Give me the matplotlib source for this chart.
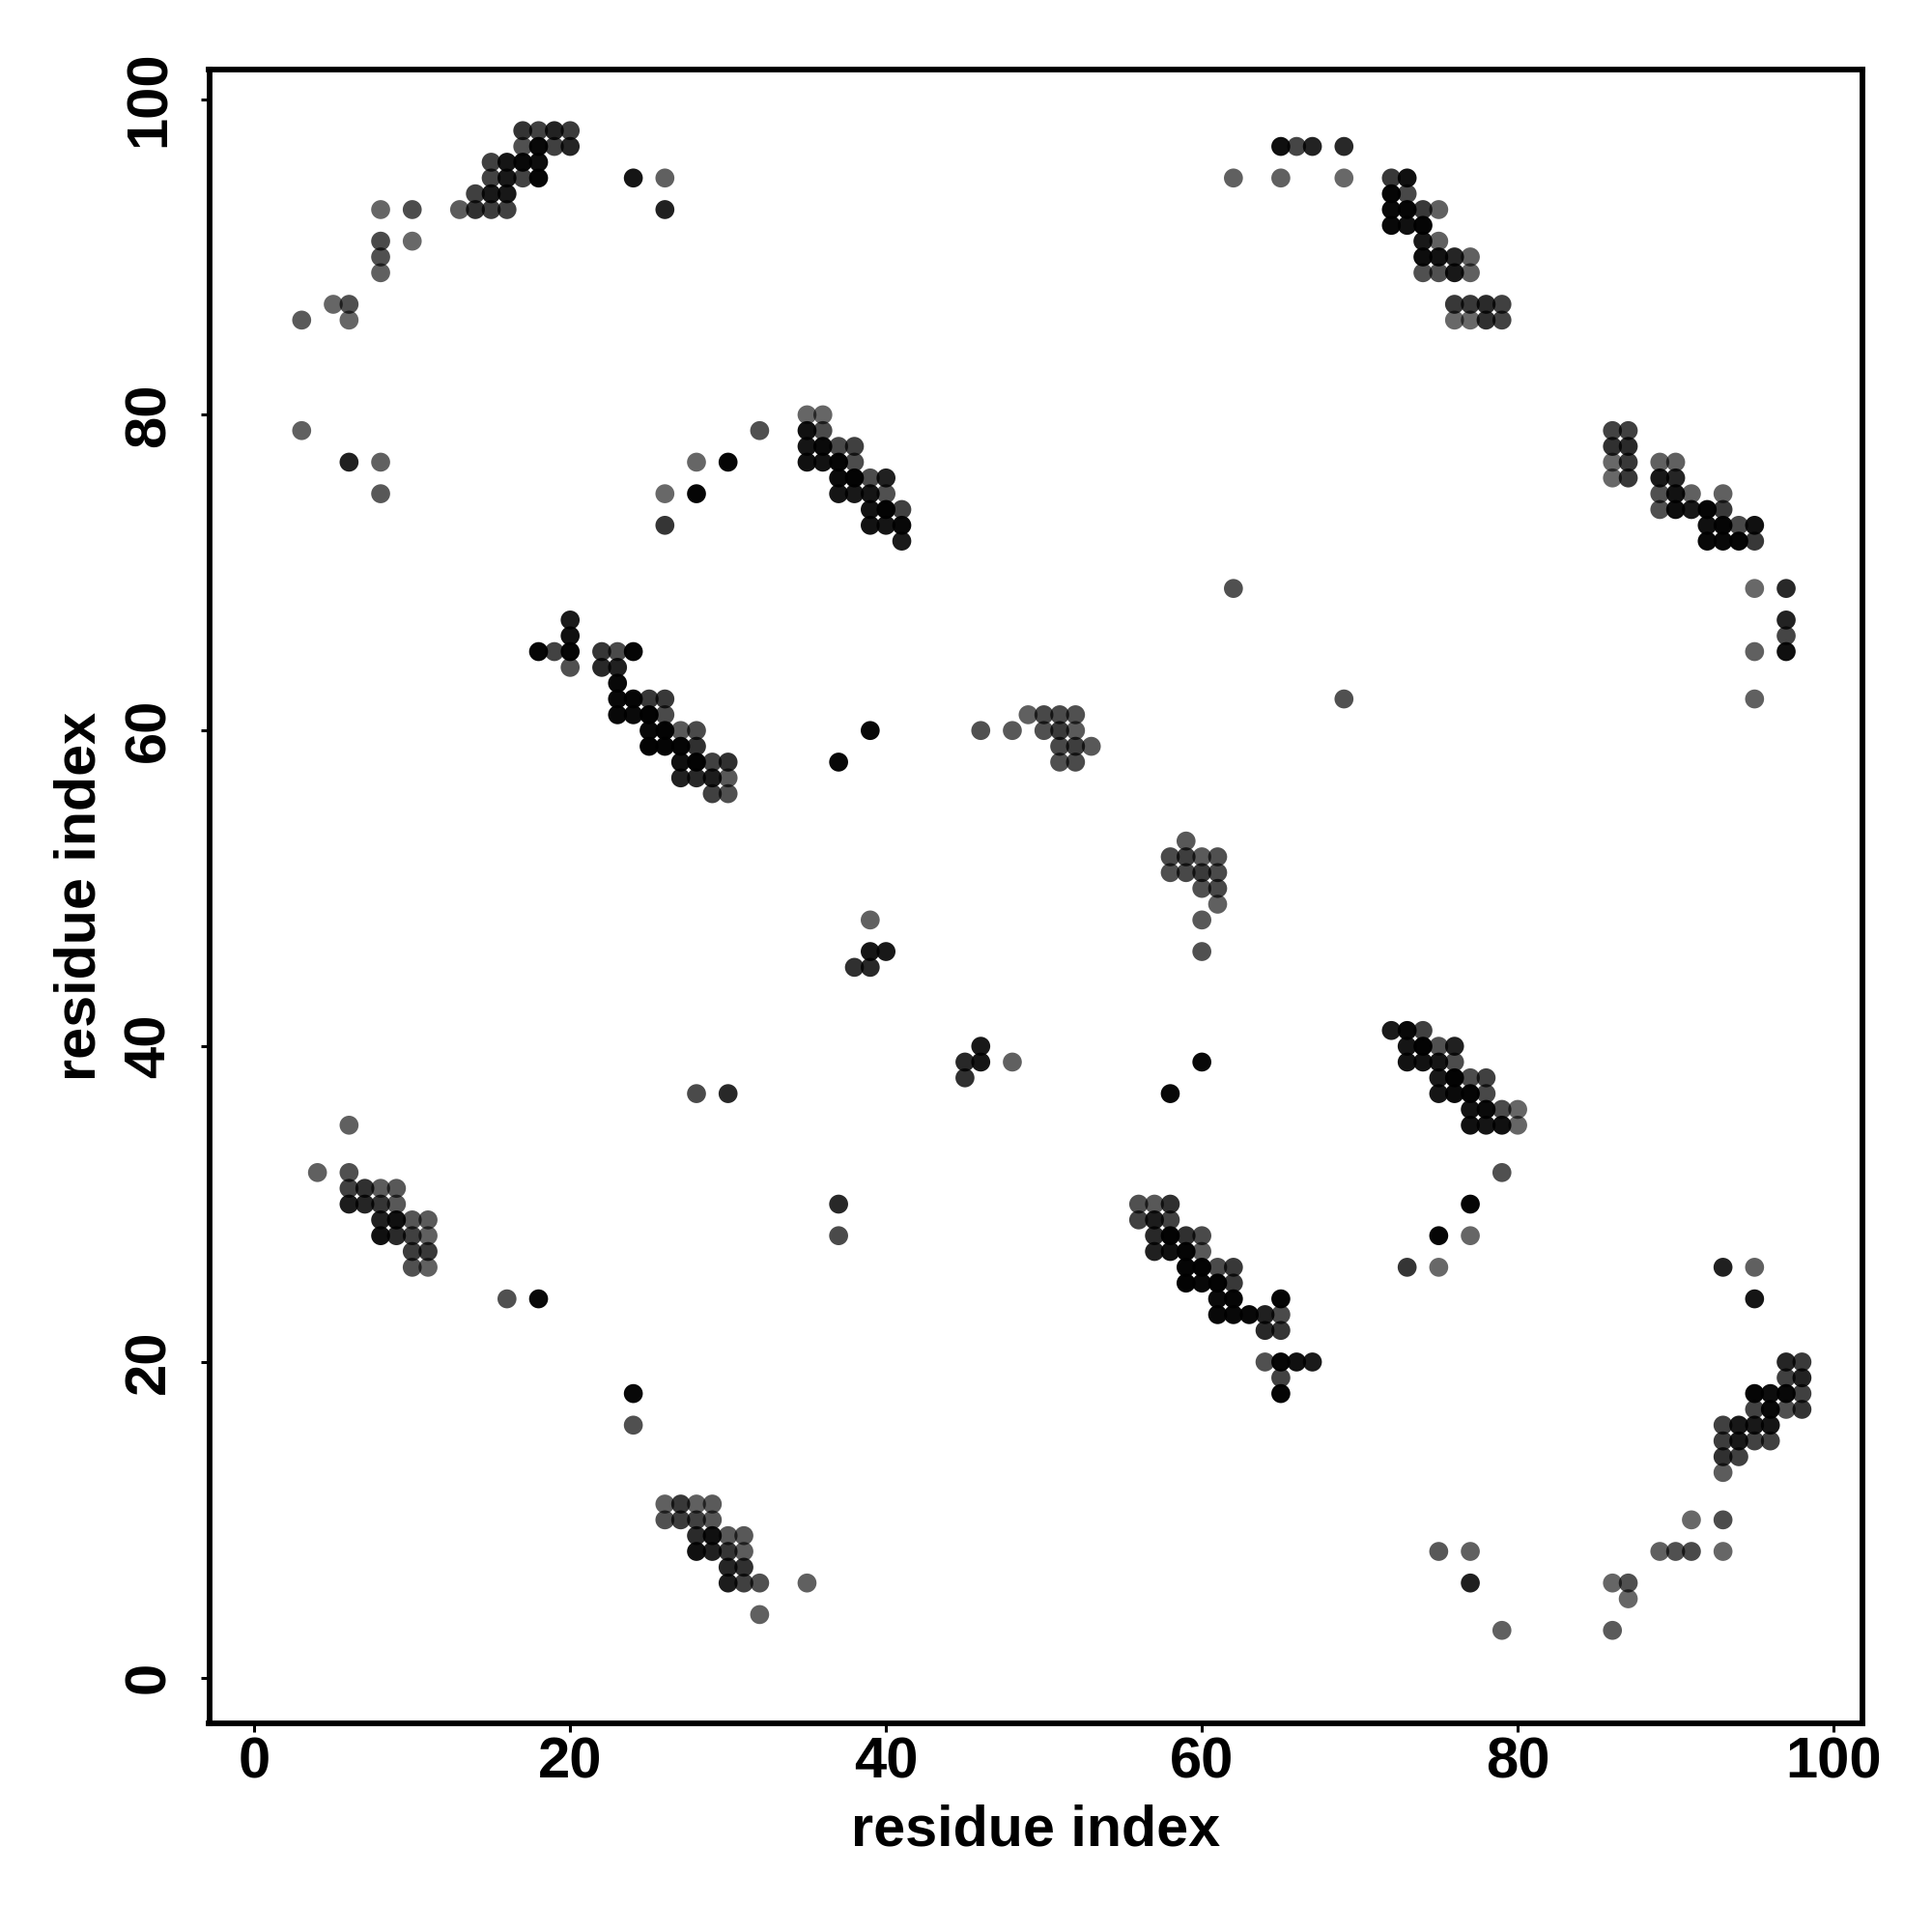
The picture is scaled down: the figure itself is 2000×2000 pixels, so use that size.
import matplotlib
matplotlib.use('Agg')
import matplotlib.pyplot as plt
import numpy as np

plt.rcParams['font.family'] = ['Liberation Sans', 'DejaVu Sans']

# contacts in the upper triangle (x < y), the map is symmetric
# gray is the level, 0 = black
res_x = [
    3, 6, 5, 6,
    8, 8, 8, 10,
    8, 10, 13, 14, 15, 16,
    14, 15, 16,
    15, 16, 17, 18,
    15, 16, 17, 18,
    17, 18, 19, 20,
    17, 18, 19, 20,
    24, 26, 26,
    3, 6, 8, 8,
    26, 26, 28, 28, 30, 32,
    35, 36,
    35, 36,
    35, 36, 37, 38,
    35, 36, 37, 38,
    37, 38, 39, 40,
    37, 38, 39, 40,
    39, 40, 41,
    39, 40, 41,
    41,
    18, 19, 20, 20, 20, 20,
    22, 23, 24,
    22, 23,
    23,
    23, 24, 25, 26,
    23, 24, 25, 26,
    25, 26, 27, 28,
    25, 26, 27, 28,
    27, 28, 29, 30,
    27, 28, 29, 30,
    29, 30,
    37, 39,
    46, 48, 49, 50, 51, 52,
    50, 51, 52,
    51, 52, 53,
    51, 52,
    38, 39, 39, 40, 39,
    28, 30,
    62,
    65, 66, 67, 69,
    62, 65, 69,
    72, 73, 72, 73,
    72, 73, 74, 75,
    72, 73, 74,
    74, 75,
    74, 75, 76, 77,
    74, 75, 76, 77,
    76, 77, 78, 79,
    76, 77, 78, 79,
    4, 6, 6,
    6, 7, 8, 9,
    6, 7, 8, 9,
    8, 9, 10, 11,
    8, 9, 10, 11,
    10, 11,
    10, 11,
    16, 18,
]
res_y = [
    86, 86, 87, 87,
    89, 90, 91, 91,
    93, 93, 93, 93, 93, 93,
    94, 94, 94,
    95, 95, 95, 95,
    96, 96, 96, 96,
    97, 97, 97, 97,
    98, 98, 98, 98,
    95, 95, 93,
    79, 77, 77, 75,
    75, 73, 77, 75, 77, 79,
    80, 80,
    79, 79,
    78, 78, 78, 78,
    77, 77, 77, 77,
    76, 76, 76, 76,
    75, 75, 75, 75,
    74, 74, 74,
    73, 73, 73,
    72,
    65, 65, 65, 64, 66, 67,
    65, 65, 65,
    64, 64,
    63,
    62, 62, 62, 62,
    61, 61, 61, 61,
    60, 60, 60, 60,
    59, 59, 59, 59,
    58, 58, 58, 58,
    57, 57, 57, 57,
    56, 56,
    58, 60,
    60, 60, 61, 61, 61, 61,
    60, 60, 60,
    59, 59, 59,
    58, 58,
    45, 45, 46, 46, 48,
    37, 37,
    69,
    97, 97, 97, 97,
    95, 95, 95,
    95, 95, 94, 94,
    93, 93, 93, 93,
    92, 92, 92,
    91, 91,
    90, 90, 90, 90,
    89, 89, 89, 89,
    87, 87, 87, 87,
    86, 86, 86, 86,
    32, 32, 35,
    31, 31, 31, 31,
    30, 30, 30, 30,
    29, 29, 29, 29,
    28, 28, 28, 28,
    27, 27,
    26, 26,
    24, 24,
]
res_gray = [
    0x5a, 0x66, 0x66, 0x50,
    0x60, 0x50, 0x4a, 0x68,
    0x66, 0x4c, 0x5c, 0x30, 0x3c, 0x40,
    0x40, 0x18, 0x18,
    0x42, 0x18, 0x42, 0x05,
    0x40, 0x15, 0x08, 0x0d,
    0x50, 0x08, 0x40, 0x25,
    0x33, 0x40, 0x22, 0x3a,
    0x15, 0x60, 0x20,
    0x60, 0x20, 0x60, 0x58,
    0x68, 0x35, 0x66, 0x05, 0x05, 0x50,
    0x66, 0x66,
    0x10, 0x4a,
    0x15, 0x0a, 0x48, 0x40,
    0x10, 0x12, 0x05, 0x4c,
    0x0a, 0x03, 0x4c, 0x20,
    0x15, 0x18, 0x15, 0x50,
    0x12, 0x03, 0x40,
    0x12, 0x15, 0x08,
    0x1a,
    0x05, 0x42, 0x05, 0x50, 0x10, 0x1a,
    0x35, 0x4a, 0x05,
    0x28, 0x20,
    0x08,
    0x08, 0x05, 0x38, 0x38,
    0x08, 0x0a, 0x03, 0x4a,
    0x08, 0x03, 0x58, 0x4a,
    0x03, 0x05, 0x05, 0x30,
    0x0f, 0x03, 0x40, 0x30,
    0x20, 0x28, 0x1c, 0x58,
    0x40, 0x50,
    0x08, 0x08,
    0x50, 0x58, 0x60, 0x48, 0x4a, 0x50,
    0x50, 0x3a, 0x5a,
    0x48, 0x3e, 0x58,
    0x50, 0x4a,
    0x30, 0x28, 0x15, 0x18, 0x60,
    0x4a, 0x28,
    0x50,
    0x0f, 0x45, 0x22, 0x28,
    0x60, 0x60, 0x68,
    0x38, 0x10, 0x05, 0x48,
    0x08, 0x05, 0x38, 0x60,
    0x08, 0x10, 0x05,
    0x18, 0x60,
    0x0d, 0x12, 0x25, 0x60,
    0x50, 0x50, 0x18, 0x60,
    0x38, 0x38, 0x2a, 0x40,
    0x68, 0x68, 0x30, 0x42,
    0x60, 0x50, 0x60,
    0x40, 0x30, 0x5c, 0x58,
    0x1c, 0x25, 0x35, 0x58,
    0x20, 0x10, 0x55, 0x5a,
    0x10, 0x2a, 0x40, 0x60,
    0x3c, 0x38,
    0x50, 0x60,
    0x50, 0x08,
]

ticks = [0, 20, 40, 60, 80, 100]

x = np.array(res_x + res_y)
y = np.array(res_y + res_x)
gray = np.array(res_gray + res_gray)
colors = np.zeros((len(x), 4))
colors[:, 3] = 1 - gray / 255

fig = plt.figure(figsize=(10, 10))
ax = fig.add_axes([216.5 / 2000, 216 / 2000, 1711.5 / 2000, 1712 / 2000])
ax.scatter(x, y, s=50, c=colors, linewidths=0)
ax.set_xlim(-2.86, 101.83)
ax.set_ylim(-2.89, 101.87)
ax.set_xticks(ticks)
ax.set_yticks(ticks)
ax.tick_params(length=3.2, width=1.1, labelsize=21.5)
ax.tick_params(axis='x', pad=1.5)
ax.tick_params(axis='y', pad=9)
for lab in ax.get_xticklabels():
    lab.set_fontweight('bold')
for lab in ax.get_yticklabels():
    lab.set_fontweight('bold')
    lab.set_rotation(90)
    lab.set_va('center')
for spine in ax.spines.values():
    spine.set_linewidth(2.1)
ax.set_xlabel('residue index', fontsize=21.4, fontweight='bold', labelpad=5.5)
ax.set_ylabel('residue index', fontsize=21.4, fontweight='bold', labelpad=6)

fig.savefig('out.png', dpi=200)
